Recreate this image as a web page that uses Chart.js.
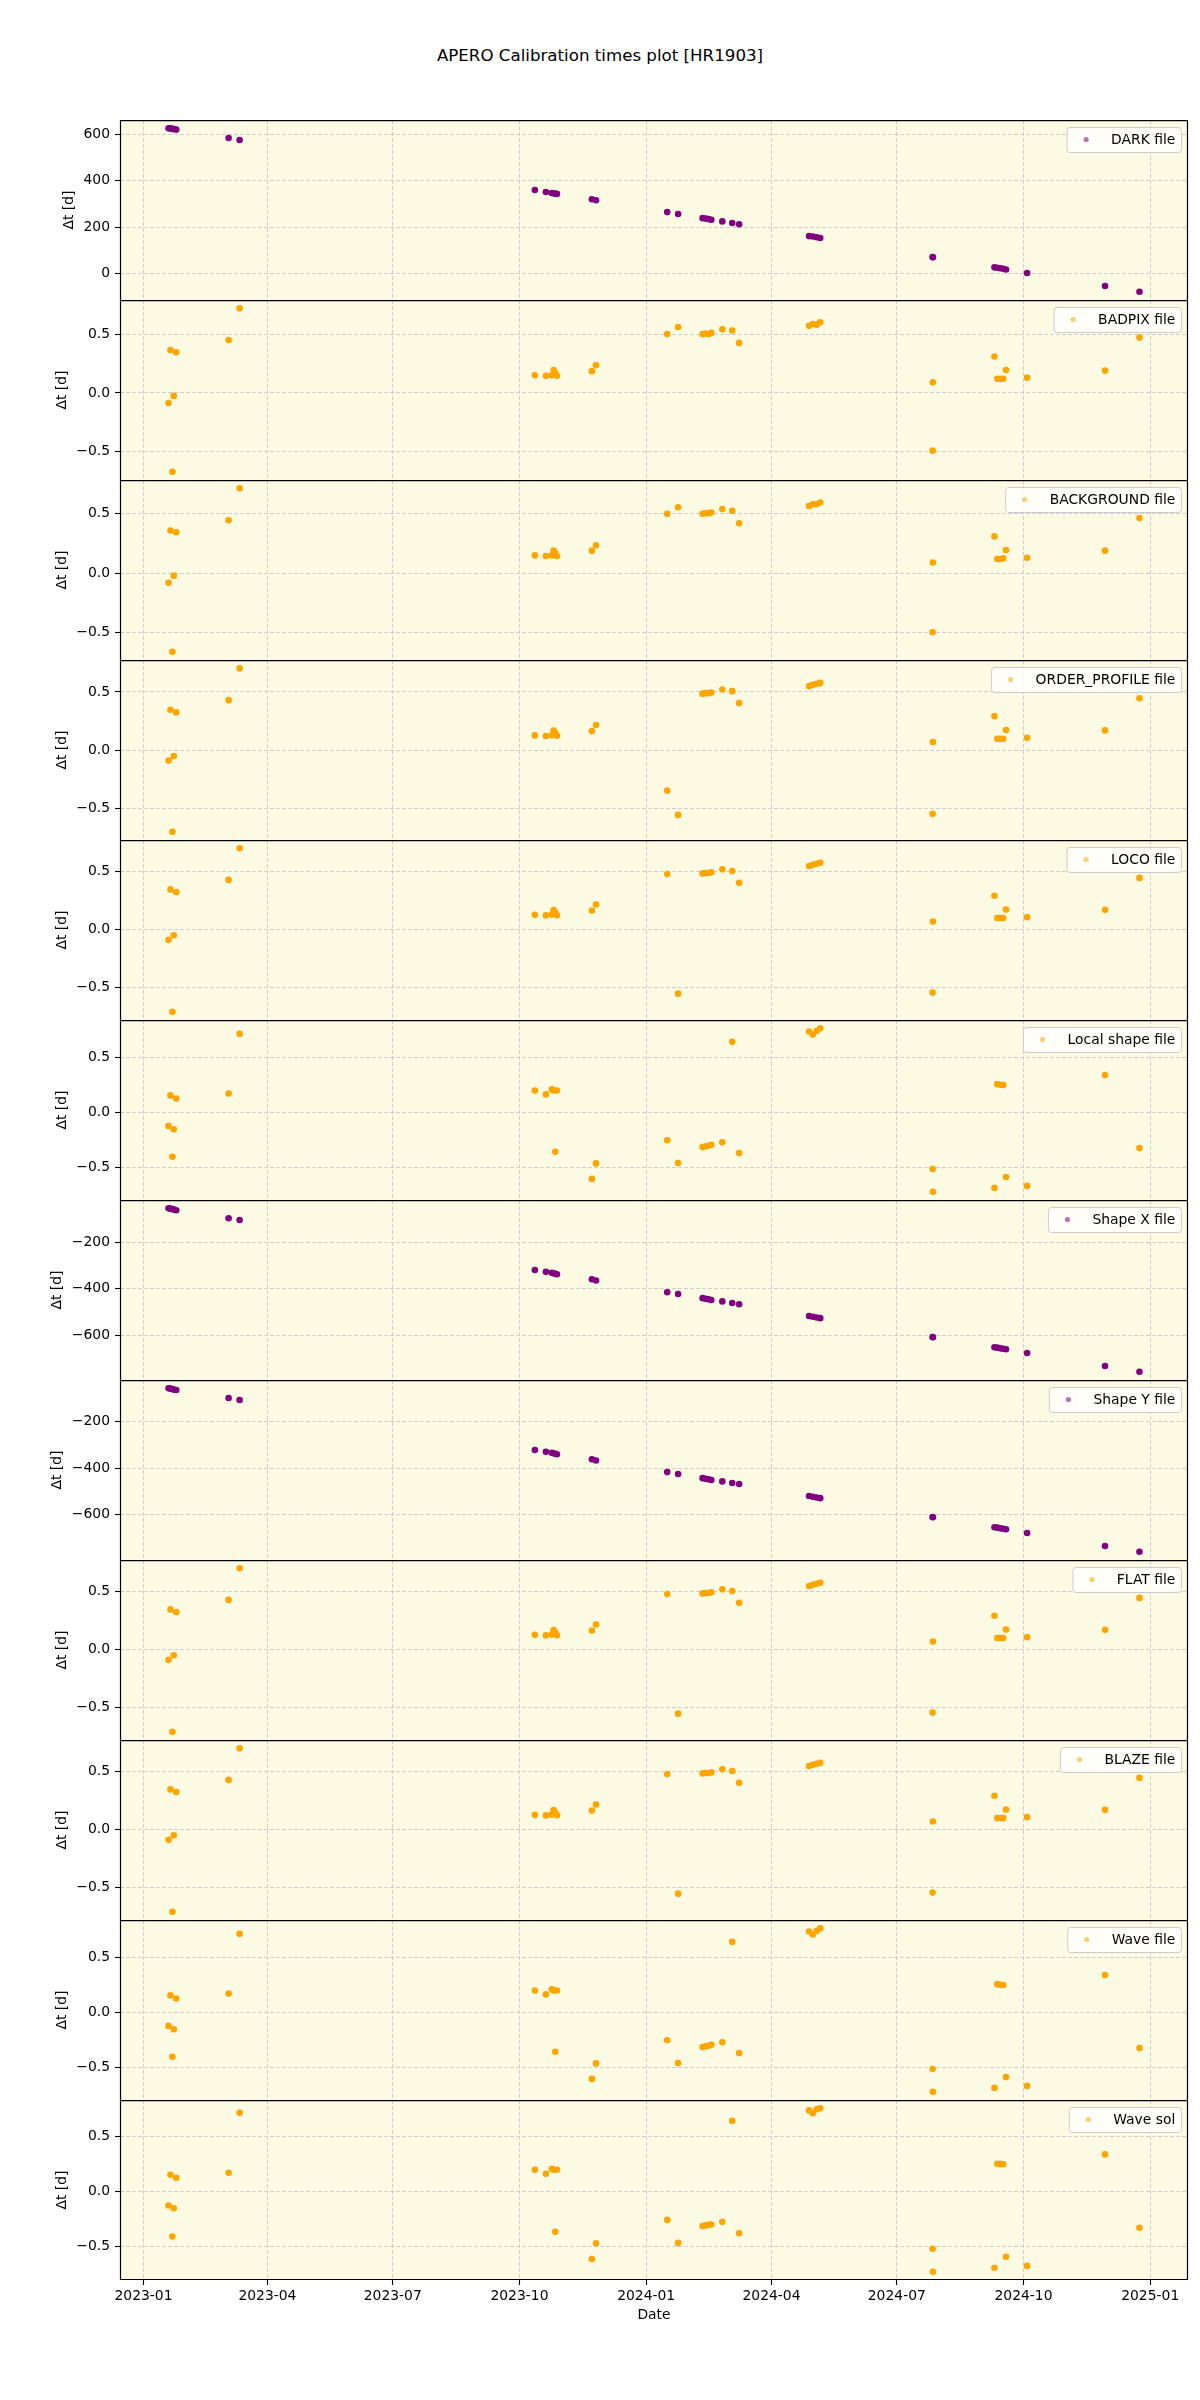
<!DOCTYPE html>
<html lang="en">
<head>
  <meta charset="UTF-8" />
  <title>APERO Calibration times plot [HR1903]</title>
  <script src="https://cdn.jsdelivr.net/npm/chart.js"></script>
  <style>
    body { margin: 0; background: #fff; }
    .figure { position: relative; width: 1200px; height: 2400px; font-family: "DejaVu Sans", sans-serif; }
    .suptitle { position: absolute; left: 0; top: 45px; width: 1200px; text-align: center; font-size: 16.67px; line-height: 22px; color: #000; }
    .figure canvas { position: absolute; left: 0; }
  </style>
</head>
<body>
  <div class="figure" id="figure">
    <div class="suptitle">APERO Calibration times plot [HR1903]</div>
  </div>

  <script>
    // observation dates, in days since 2023-01-01
    const days = [18.2, 19.6, 21.0, 22.0, 23.8, 61.8, 69.8, 284.2, 292.2, 296.5, 297.8, 299.0, 300.2, 325.6, 328.6,
      380.3, 388.2, 406.0, 408.2, 410.3, 412.3, 420.3, 427.5, 432.5, 483.3, 486.0, 488.8, 491.4, 573.0, 573.2,
      617.9, 620.0, 622.2, 624.3, 626.3, 641.6, 698.2, 723.2];

    // Δt [d] per calibration type, one value per date above
    const darkDt = [625, 624, 622, 621, 619, 583, 574, 360, 351, 347, 346, 344, 343, 320, 316,
      265, 257, 239, 237, 235, 232, 225, 218, 213, 162, 160, 157, 154, 72, 71,
      28, 26, 24, 22, 19, 4, -52, -77];
    const badpixDt = [-0.085, 0.365, -0.67, -0.025, 0.345, 0.45, 0.72, 0.15, 0.145, 0.15, 0.195, 0.17, 0.145, 0.185, 0.235,
      0.50, 0.56, 0.50, 0.505, 0.50, 0.51, 0.54, 0.53, 0.425, 0.57, 0.585, 0.58, 0.60, -0.49, 0.09,
      0.31, 0.12, 0.12, 0.12, 0.195, 0.13, 0.19, 0.47];
    const backgroundDt = [-0.08, 0.36, -0.66, -0.02, 0.345, 0.445, 0.715, 0.15, 0.145, 0.15, 0.19, 0.17, 0.145, 0.19, 0.235,
      0.50, 0.555, 0.50, 0.505, 0.505, 0.51, 0.54, 0.525, 0.42, 0.565, 0.58, 0.58, 0.595, -0.495, 0.09,
      0.31, 0.12, 0.12, 0.125, 0.195, 0.13, 0.19, 0.465];
    const orderProfileDt = [-0.088, 0.348, -0.698, -0.048, 0.325, 0.43, 0.704, 0.128, 0.123, 0.13, 0.17, 0.148, 0.125, 0.165, 0.217,
      -0.345, -0.553, 0.486, 0.49, 0.49, 0.496, 0.521, 0.507, 0.405, 0.55, 0.561, 0.57, 0.578, -0.544, 0.071,
      0.293, 0.10, 0.10, 0.10, 0.174, 0.108, 0.171, 0.447];
    const locoDt = [-0.088, 0.348, -0.71, -0.048, 0.325, 0.43, 0.704, 0.128, 0.123, 0.13, 0.17, 0.148, 0.125, 0.165, 0.217,
      0.48, -0.553, 0.486, 0.49, 0.49, 0.496, 0.521, 0.507, 0.405, 0.55, 0.561, 0.57, 0.578, -0.544, 0.071,
      0.293, 0.10, 0.10, 0.10, 0.174, 0.108, 0.171, 0.447];
    const localShapeDt = [-0.124, 0.155, -0.406, -0.155, 0.127, 0.173, 0.718, 0.20, 0.164, 0.212, 0.20, -0.36, 0.20, -0.609, -0.467,
      -0.255, -0.464, -0.318, -0.31, -0.306, -0.297, -0.273, 0.645, -0.373, 0.739, 0.712, 0.745, 0.77, -0.518, -0.727,
      -0.691, 0.258, 0.252, 0.25, -0.591, -0.673, 0.342, -0.327];
    const shapeXDt = [-54, -56, -58, -60, -63, -97, -105, -320, -328, -332, -334, -336, -338, -360, -365,
      -416, -423, -441, -444, -446, -449, -455, -462, -467, -518, -521, -524, -527, -608, -609,
      -652, -654, -657, -659, -661, -677, -733, -758];
    const shapeYDt = [-55, -57, -59, -61, -63, -97, -106, -321, -329, -333, -335, -337, -339, -361, -366,
      -416, -424, -442, -445, -447, -450, -456, -463, -467, -519, -522, -525, -528, -609, -610,
      -653, -655, -658, -660, -662, -678, -734, -759];
    const flatDt = [-0.088, 0.348, -0.71, -0.048, 0.325, 0.43, 0.704, 0.128, 0.123, 0.13, 0.17, 0.148, 0.125, 0.165, 0.217,
      0.48, -0.553, 0.486, 0.49, 0.49, 0.496, 0.521, 0.507, 0.405, 0.55, 0.561, 0.57, 0.578, -0.544, 0.071,
      0.293, 0.10, 0.10, 0.10, 0.174, 0.108, 0.171, 0.447];
    const blazeDt = [-0.088, 0.348, -0.71, -0.048, 0.325, 0.43, 0.704, 0.128, 0.123, 0.13, 0.17, 0.148, 0.125, 0.165, 0.217,
      0.48, -0.553, 0.486, 0.49, 0.49, 0.496, 0.521, 0.507, 0.405, 0.55, 0.561, 0.57, 0.578, -0.544, 0.071,
      0.293, 0.10, 0.10, 0.10, 0.174, 0.108, 0.171, 0.447];
    const waveFileDt = [-0.124, 0.155, -0.406, -0.155, 0.127, 0.173, 0.718, 0.20, 0.164, 0.212, 0.20, -0.36, 0.20, -0.609, -0.467,
      -0.255, -0.464, -0.318, -0.31, -0.306, -0.297, -0.273, 0.645, -0.373, 0.739, 0.712, 0.745, 0.77, -0.518, -0.727,
      -0.691, 0.258, 0.252, 0.25, -0.591, -0.673, 0.342, -0.327];
    const waveSolDt = [-0.124, 0.155, -0.406, -0.15, 0.127, 0.173, 0.718, 0.20, 0.164, 0.21, 0.20, -0.364, 0.20, -0.61, -0.467,
      -0.255, -0.464, -0.31, -0.305, -0.30, -0.297, -0.273, 0.645, -0.376, 0.74, 0.715, 0.75, 0.76, -0.518, -0.727,
      -0.69, 0.255, 0.255, 0.25, -0.59, -0.673, 0.34, -0.327];

    // tick values / labels
    const dateTickDays = [0, 90, 181, 273, 365, 456, 547, 639, 731];
    const dateTickLabels = ['2023-01', '2023-04', '2023-07', '2023-10', '2024-01', '2024-04', '2024-07', '2024-10', '2025-01'];
    const darkTicks = [0, 200, 400, 600];
    const fracTicks = [-0.5, 0, 0.5];
    const shapeTicks = [-600, -400, -200];

    const panelLabels = ['DARK file', 'BADPIX file', 'BACKGROUND file', 'ORDER_PROFILE file', 'LOCO file', 'Local shape file',
      'Shape X file', 'Shape Y file', 'FLAT file', 'BLAZE file', 'Wave file', 'Wave sol'];
    const panelSeries = [darkDt, badpixDt, backgroundDt, orderProfileDt, locoDt, localShapeDt,
      shapeXDt, shapeYDt, flatDt, blazeDt, waveFileDt, waveSolDt];
    const panelTicks = [darkTicks, fracTicks, fracTicks, fracTicks, fracTicks, fracTicks,
      shapeTicks, shapeTicks, fracTicks, fracTicks, fracTicks, fracTicks];

    const ORANGE = '#ffa500';
    const PURPLE = '#800080';
    const panelColors = [PURPLE, ORANGE, ORANGE, ORANGE, ORANGE, ORANGE, PURPLE, PURPLE, ORANGE, ORANGE, ORANGE, ORANGE];

    const FS = 13.9;
    const FONT = '"DejaVu Sans", sans-serif';
    Chart.defaults.font.family = FONT;
    Chart.defaults.font.size = FS;
    Chart.defaults.color = '#000';

    const fmt = (v, step) => (step < 1 ? v.toFixed(1) : String(Math.round(v))).replace('-', '\u2212');

    const xPad = (Math.max(...days) - Math.min(...days)) * 0.05;
    const xMin = Math.min(...days) - xPad;
    const xMax = Math.max(...days) + xPad;

    const measure = document.createElement('canvas').getContext('2d');
    measure.font = FS + 'px ' + FONT;

    // axes background, frame and in-axes legend (matplotlib look)
    const axesDecor = {
      id: 'axesDecor',
      beforeDraw(chart, args, o) {
        const { ctx, chartArea: a } = chart;
        ctx.save();
        ctx.fillStyle = '#fcfae2';
        ctx.fillRect(a.left, a.top, a.right - a.left, a.bottom - a.top);
        ctx.restore();
      },
      afterDraw(chart, args, o) {
        const { ctx, chartArea: a } = chart;
        ctx.save();
        ctx.strokeStyle = '#000';
        ctx.lineWidth = 1.2;
        ctx.beginPath();
        ctx.moveTo(a.left + 0.5, a.bottom);
        ctx.lineTo(a.left + 0.5, a.top + 0.6);
        ctx.lineTo(a.right - 0.5, a.top + 0.6);
        ctx.lineTo(a.right - 0.5, a.bottom);
        if (o.last) {
          ctx.moveTo(a.left, a.bottom - 0.5);
          ctx.lineTo(a.right, a.bottom - 0.5);
        }
        ctx.stroke();

        // legend box
        ctx.font = FS + 'px ' + FONT;
        const tw = ctx.measureText(o.label).width;
        const w = 5.6 + 27.8 + 11.1 + tw + 5.6;
        const h = 25;
        const x0 = a.right - 7 - w;
        const y0 = a.top + 7;
        ctx.beginPath();
        ctx.roundRect(x0 + 0.5, y0 + 0.5, w, h, 3);
        ctx.fillStyle = 'rgba(255,255,255,0.8)';
        ctx.fill();
        ctx.strokeStyle = '#cccccc';
        ctx.lineWidth = 1;
        ctx.stroke();
        ctx.beginPath();
        ctx.arc(x0 + 5.6 + 13.9, y0 + h / 2, 2.6, 0, Math.PI * 2);
        ctx.globalAlpha = 0.55;
        ctx.fillStyle = o.color;
        ctx.fill();
        ctx.globalAlpha = 1;
        ctx.fillStyle = '#000';
        ctx.textBaseline = 'middle';
        ctx.fillText(o.label, x0 + 5.6 + 27.8 + 11.1, y0 + h / 2 + 0.5);
        ctx.restore();
      }
    };

    const fig = document.getElementById('figure');

    panelLabels.forEach((label, i) => {
      const last = i === panelLabels.length - 1;
      const vals = panelSeries[i];
      const lo = Math.min(...vals), hi = Math.max(...vals);
      const pad = (hi - lo) * 0.05;
      const ticks = panelTicks[i];
      const step = ticks[1] - ticks[0];
      const tickW = Math.max(...ticks.map(v => measure.measureText(fmt(v, step)).width));
      const labelCenter = 120 - 10 - tickW - 5.6 - 8.6;

      const cv = document.createElement('canvas');
      cv.width = 1200;
      cv.height = last ? 240 : 180;
      cv.style.top = (120 + 180 * i) + 'px';
      fig.appendChild(cv);

      new Chart(cv, {
        type: 'scatter',
        data: {
          datasets: [{
            label: label,
            data: days.map((d, k) => ({ x: d, y: vals[k] })),
            backgroundColor: panelColors[i],
            borderWidth: 0,
            pointRadius: 3.3,
            pointHoverRadius: 3.3
          }]
        },
        options: {
          responsive: false,
          maintainAspectRatio: false,
          animation: false,
          events: [],
          layout: { autoPadding: false, padding: { left: 0, right: 12, top: 0, bottom: 0 } },
          plugins: {
            legend: { display: false },
            tooltip: { enabled: false },
            axesDecor: { label: label, color: panelColors[i], last: last }
          },
          scales: {
            x: {
              type: 'linear',
              min: xMin,
              max: xMax,
              bounds: 'data',
              afterBuildTicks: s => { s.ticks = dateTickDays.map(v => ({ value: v })); },
              afterFit: s => {
                s.height = last ? 60 : 0;
                s.paddingLeft = 0;
                s.paddingRight = 0;
              },
              ticks: {
                display: last,
                autoSkip: false,
                maxRotation: 0,
                padding: 3,
                callback: (v, idx) => dateTickLabels[idx]
              },
              grid: {
                color: '#cfcfcf',
                lineWidth: 1,
                drawTicks: last,
                tickLength: 5,
                tickColor: '#000',
                tickWidth: 1.1,
                tickBorderDash: []
              },
              border: { display: false, dash: [4, 2] },
              title: {
                display: last,
                text: 'Date',
                padding: { top: 4, bottom: 16.7 }
              }
            },
            y: {
              type: 'linear',
              position: 'left',
              min: lo - pad,
              max: hi + pad,
              bounds: 'data',
              afterBuildTicks: s => { s.ticks = ticks.map(v => ({ value: v })); },
              afterFit: s => {
                s.width = 120;
                s.paddingTop = 0;
                s.paddingBottom = 0;
              },
              ticks: {
                padding: 5,
                callback: v => fmt(v, step)
              },
              grid: {
                color: '#cfcfcf',
                lineWidth: 1,
                drawTicks: true,
                tickLength: 5,
                tickColor: '#000',
                tickWidth: 1.1,
                tickBorderDash: []
              },
              border: { display: false, dash: [4, 2] },
              title: {
                display: true,
                text: 'Δt [d]',
                padding: { top: labelCenter - FS * 0.6, bottom: 0 }
              }
            }
          }
        },
        plugins: [axesDecor]
      });
    });
  </script>
</body>
</html>
